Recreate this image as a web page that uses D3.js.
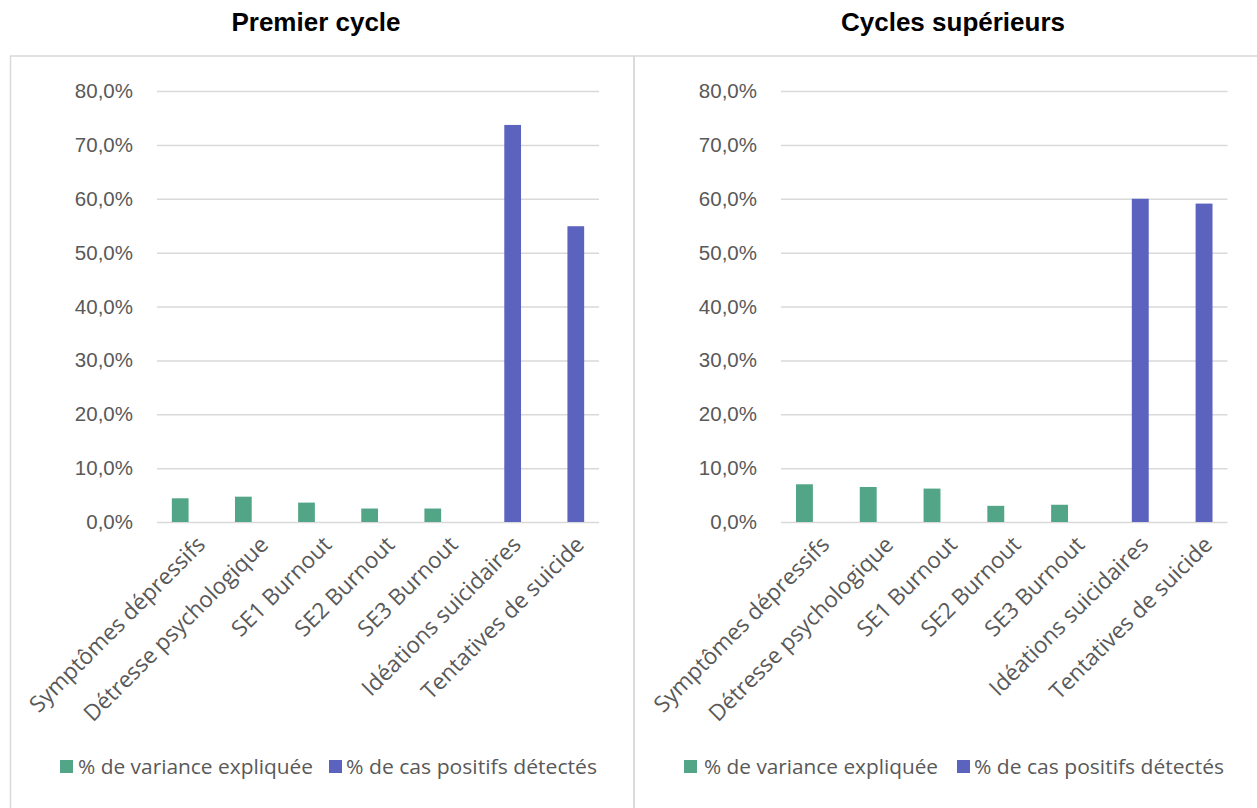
<!DOCTYPE html>
<html>
<head>
<meta charset="utf-8">
<script src="https://cdn.jsdelivr.net/npm/d3@7/dist/d3.min.js"></script>
<style>
  html, body { margin: 0; padding: 0; background: #fff; }
  svg { display: block; }
</style>
</head>
<body>
<svg id="chart" width="1257" height="808"></svg>
<script>
const categories = ["Symptômes dépressifs", "Détresse psychologique", "SE1 Burnout", "SE2 Burnout", "SE3 Burnout", "Idéations suicidaires", "Tentatives de suicide"];
const seriesNames = ["% de variance expliquée", "% de cas positifs détectés"];
const seriesColors = ["#52a587", "#5b63bf"];
const panelTitles = ["Premier cycle", "Cycles supérieurs"];
const premierVariance = [4.4, 4.7, 3.6, 2.5, 2.5, null, null];
const premierDetectes = [null, null, null, null, null, 73.7, 54.9];
const superieursVariance = [7.0, 6.5, 6.2, 3.0, 3.2, null, null];
const superieursDetectes = [null, null, null, null, null, 60.0, 59.1];
const yTicks = [0, 10, 20, 30, 40, 50, 60, 70, 80];

const svg = d3.select("#chart");
const grey = "#595959";
const gridColor = "#d9d9d9";

const panels = [
  { title: panelTitles[0], titleX: 316, box: [10.5, 634], plot: [157, 599], series: [premierVariance, premierDetectes] },
  { title: panelTitles[1], titleX: 953, box: [634, 1262], plot: [781, 1227.5], series: [superieursVariance, superieursDetectes] }
];

const y = d3.scaleLinear().domain([0, 80]).range([522, 91]);
const fmt = v => d3.format(".1f")(v).replace(".", ",") + "%";

panels.forEach((p, pi) => {
  const g = svg.append("g");
  g.append("rect")
    .attr("x", p.box[0]).attr("y", 56)
    .attr("width", p.box[1] - p.box[0]).attr("height", 800)
    .attr("fill", "none").attr("stroke", gridColor).attr("stroke-width", 1.5);

  g.append("text")
    .attr("x", p.titleX).attr("y", 31)
    .attr("text-anchor", "middle")
    .attr("font-family", "Liberation Sans, Arial, sans-serif")
    .attr("font-weight", "bold").attr("font-size", 26)
    .attr("fill", "#000")
    .text(p.title);

  const x0 = d3.scaleBand().domain(categories).range(p.plot).paddingInner(0.47).paddingOuter(0.235);
  const x1 = d3.scaleBand().domain([0, 1]).range([0, x0.bandwidth()]).padding(0);

  const yAxis = d3.axisLeft(y).tickValues(yTicks).tickSize(-(p.plot[1] - p.plot[0])).tickFormat(fmt).tickPadding(24);
  const ag = g.append("g").attr("transform", `translate(${p.plot[0]},0)`).call(yAxis);
  ag.select(".domain").remove();
  ag.selectAll(".tick line").attr("stroke", gridColor).attr("stroke-width", 1.5);
  ag.selectAll(".tick text")
    .attr("fill", grey)
    .attr("font-family", "Liberation Sans, Arial, sans-serif")
    .attr("font-size", 20.5);

  p.series.forEach((vals, si) => {
    g.append("g").selectAll("rect")
      .data(categories.map((c, i) => ({ c, v: vals[i] })).filter(d => d.v != null))
      .join("rect")
      .attr("x", d => x0(d.c) + x1(si))
      .attr("width", x1.bandwidth())
      .attr("y", d => y(d.v))
      .attr("height", d => y(0) - y(d.v))
      .attr("fill", seriesColors[si]);
  });

  const xAxis = d3.axisBottom(x0).tickSize(0).tickPadding(0);
  const xg = g.append("g").attr("transform", `translate(0,${y(0)})`).call(xAxis);
  xg.select(".domain").remove();
  xg.selectAll(".tick text")
    .attr("fill", grey)
    .attr("font-family", "Open Sans, sans-serif")
    .attr("font-size", 22.5)
    .attr("text-anchor", "end")
    .attr("dy", 0)
    .attr("transform", "translate(18,24) rotate(-45)");

  const lg = g.append("g");
  const legendItems = pi === 0
    ? [{ sx: 60, tx: 78, tl: 235 }, { sx: 329, tx: 346, tl: 251 }]
    : [{ sx: 684, tx: 704, tl: 234 }, { sx: 957, tx: 974, tl: 250 }];
  legendItems.forEach((it, si) => {
    lg.append("rect").attr("x", it.sx).attr("y", 760).attr("width", 13).attr("height", 13).attr("fill", seriesColors[si]);
    lg.append("text").attr("x", it.tx).attr("y", 774)
      .attr("font-family", "Open Sans, sans-serif").attr("font-size", 20)
      .attr("fill", grey)
      .attr("textLength", it.tl).attr("lengthAdjust", "spacingAndGlyphs")
      .text(seriesNames[si]);
  });
});
</script>
</body>
</html>
